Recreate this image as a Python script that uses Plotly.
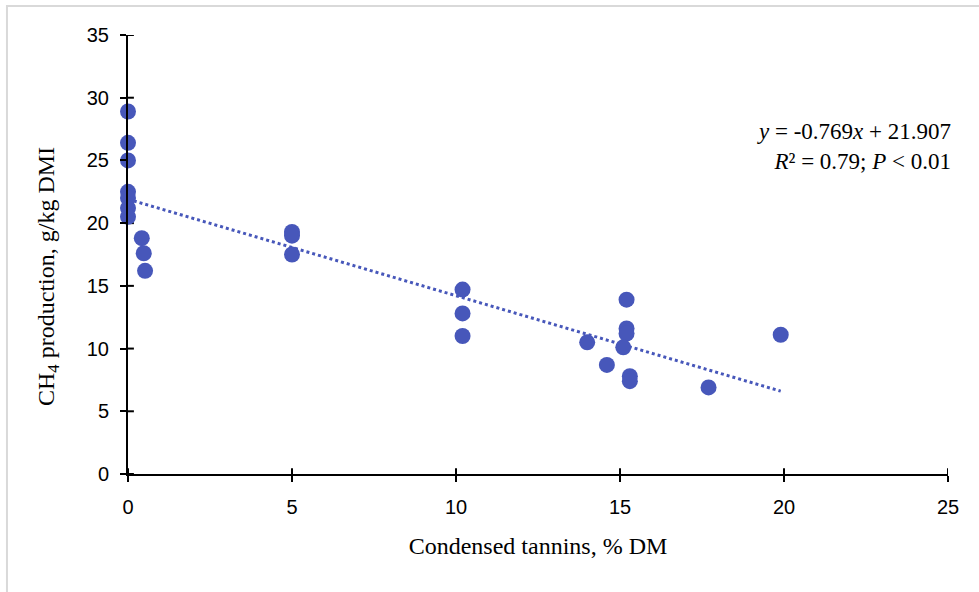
import numpy as np
import plotly.graph_objects as go

# Condensed tannin content (% DM) and CH4 production (g/kg DMI)
tannin = [0, 0, 0, 0, 0, 0, 0,
          0.42, 0.48, 0.52,
          5.0, 5.0, 5.0,
          10.2, 10.2, 10.2,
          15.2, 15.2, 15.2, 14.0, 15.1, 14.6, 15.3, 15.3,
          17.7, 19.9]
methane = [28.9, 26.4, 25.0, 22.5, 22.0, 21.2, 20.5,
           18.8, 17.6, 16.2,
           19.3, 19.0, 17.5,
           14.7, 12.8, 11.0,
           13.9, 11.6, 11.2, 10.5, 10.1, 8.7, 7.8, 7.4,
           6.9, 11.1]

# Fitted regression
slope = -0.769
intercept = 21.907

x_ticks = [0, 5, 10, 15, 20, 25]
y_ticks = [0, 5, 10, 15, 20, 25, 30, 35]
x_range = [0, 25]
y_range = [0, 35]

marker_color = "#4757BA"
serif = "Liberation Serif, Times New Roman, serif"
sans = "Liberation Sans, Arial, sans-serif"

fit_x = np.array([0, max(tannin)])
fit_y = slope * fit_x + intercept

fig = go.Figure()

# Inner halves of the crossing tick marks (outer halves come from the axes)
x_len = 0.45   # in y units
y_len = 0.18   # in x units
tx, ty = [], []
for v in x_ticks:
    tx += [v, v, None]
    ty += [0, x_len, None]
for v in y_ticks:
    tx += [0, y_len, None]
    ty += [v, v, None]
fig.add_trace(go.Scatter(x=tx, y=ty, mode="lines",
                         line=dict(color="black", width=2),
                         hoverinfo="skip", showlegend=False))

fig.add_trace(go.Scatter(
    x=fit_x, y=fit_y, mode="lines",
    line=dict(color=marker_color, width=3, dash="dot"),
    hoverinfo="skip", showlegend=False,
))
fig.add_trace(go.Scatter(
    x=tannin, y=methane, mode="markers", cliponaxis=False,
    marker=dict(color=marker_color, size=16, line=dict(width=0)),
    showlegend=False,
))

# Light frame around the chart
shapes = [dict(type="rect", xref="paper", yref="paper",
               x0=-0.1476, x1=1.2, y0=-0.5, y1=1.066,
               line=dict(color="#d9d9d9", width=2), layer="below")]

axis_common = dict(showgrid=False, zeroline=False, showline=True,
                   linecolor="black", linewidth=2, tickcolor="black",
                   tickwidth=2, ticklen=6, ticks="outside")

fig.update_layout(
    width=979, height=592,
    margin=dict(l=128, r=31, t=35, b=118),
    paper_bgcolor="white", plot_bgcolor="white",
    shapes=shapes,
    xaxis=dict(
        range=x_range, tickvals=x_ticks, **axis_common,
        tickfont=dict(family=sans, size=20, color="black"),
        ticklabelstandoff=8,
        title=dict(text="Condensed tannins, % DM", standoff=20,
                   font=dict(family=serif, size=24, color="black")),
    ),
    yaxis=dict(
        range=y_range, tickvals=y_ticks, **axis_common,
        tickfont=dict(family=sans, size=20, color="black"),
        ticklabelstandoff=7,
    ),
    annotations=[
        dict(
            xref="paper", yref="paper", x=1.006, y=0.745,
            xanchor="right", yanchor="middle", align="right", showarrow=False,
            text=f"<i>y</i> = {slope}<i>x</i> + {intercept}<br><i>R</i>² = 0.79; <i>P</i> < 0.01",
            font=dict(family=serif, size=23, color="black"),
        ),
        dict(
            xref="paper", yref="paper", x=-0.0976, y=0.451,
            xanchor="center", yanchor="middle", textangle=-90, showarrow=False,
            text="CH<sub>4</sub> production, g/kg DMI",
            font=dict(family=serif, size=24, color="black"),
        ),
    ],
)

fig.write_html("out.html")
